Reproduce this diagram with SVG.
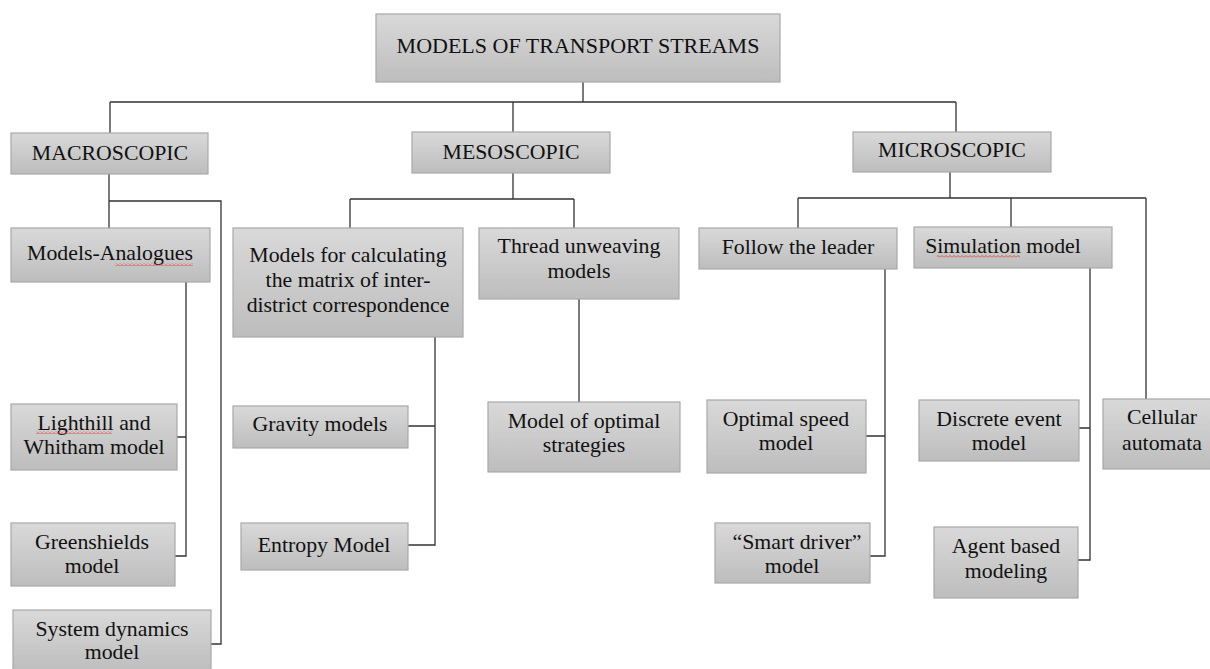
<svg xmlns="http://www.w3.org/2000/svg" width="1210" height="669" viewBox="0 0 1210 669">
<defs>
<linearGradient id="g" x1="0" y1="0" x2="0" y2="1">
<stop offset="0" stop-color="#d9d9d9"/>
<stop offset="1" stop-color="#bdbdbd"/>
</linearGradient>
<pattern id="sq" width="4" height="3" patternUnits="userSpaceOnUse">
<path d="M0,2.5 L2,0.5 L4,2.5" stroke="#e03030" fill="none" stroke-width="0.8"/>
</pattern>
<style>
.b{fill:url(#g);stroke:#a8a8a8;stroke-width:1.2}
.t{font-family:"Liberation Serif","Times New Roman",serif;font-size:21.8px;fill:#111;text-anchor:middle}
.r{font-size:22px}
.c{fill:none;stroke:#333;stroke-width:1.3}
.sq{fill:url(#sq)}
</style>
</defs>
<rect width="1210" height="669" fill="#fff"/>
<g id="connectors" class="c">
<path d="M583,82 V102 M110,102 H956 M110,102 V133 M513,102 V132 M956,102 V132"/>
<path d="M109,174 V228 M109,201 H221 V644 H211 M186,282 V556 H175 M177,437 H186"/>
<path d="M513,173 V199 M350,199 H574 M350,199 V228 M574,199 V228 M435,337 V545 H408 M408,426 H435 M579,299 V402"/>
<path d="M950,172 V198 M798,198 H1146 M798,198 V228 M1011,198 V228 M1146,198 V399 M885,269 V556 H870 M866,436 H885 M1090,268 V560 H1078 M1079,428 H1090"/>
</g>
<g id="root"><rect class="b" x="376" y="14" width="404" height="68"/><text class="t r" x="578" y="53">MODELS OF TRANSPORT STREAMS</text></g>
<g id="macro"><rect class="b" x="11" y="133" width="197" height="41"/><text class="t" x="110" y="160">MACROSCOPIC</text></g>
<g id="analogues"><rect class="b" x="11" y="228" width="199" height="54"/><text class="t" x="110" y="260">Models-Analogues</text><rect class="sq" x="115" y="263" width="78" height="3"/></g>
<g id="lighthill"><rect class="b" x="11" y="404" width="166" height="66"/><text class="t" x="94" y="430">Lighthill and</text><text class="t" x="94" y="454">Whitham model</text><rect class="sq" x="36" y="431" width="76" height="3"/></g>
<g id="greenshields"><rect class="b" x="11" y="523" width="164" height="63"/><text class="t" x="92" y="549">Greenshields</text><text class="t" x="92" y="573">model</text></g>
<g id="sysdyn"><rect class="b" x="13" y="610" width="198" height="62"/><text class="t" x="112" y="636">System dynamics</text><text class="t" x="112" y="659">model</text></g>
<g id="meso"><rect class="b" x="412" y="132" width="198" height="41"/><text class="t" x="511" y="159">MESOSCOPIC</text></g>
<g id="matrix"><rect class="b" x="233" y="228" width="230" height="109"/><text class="t" x="348" y="262">Models for calculating</text><text class="t" x="348" y="287">the matrix of inter-</text><text class="t" x="348" y="312">district correspondence</text></g>
<g id="thread"><rect class="b" x="479" y="228" width="200" height="71"/><text class="t" x="579" y="253">Thread unweaving</text><text class="t" x="579" y="278">models</text></g>
<g id="gravity"><rect class="b" x="233" y="406" width="175" height="42"/><text class="t" x="320" y="431">Gravity models</text></g>
<g id="entropy"><rect class="b" x="241" y="523" width="167" height="47"/><text class="t" x="324" y="552">Entropy Model</text></g>
<g id="optimal"><rect class="b" x="488" y="402" width="192" height="70"/><text class="t" x="584" y="428">Model of optimal</text><text class="t" x="584" y="452">strategies</text></g>
<g id="micro"><rect class="b" x="853" y="132" width="198" height="40"/><text class="t" x="952" y="157">MICROSCOPIC</text></g>
<g id="follow"><rect class="b" x="699" y="228" width="198" height="41"/><text class="t" x="798" y="254">Follow the leader</text></g>
<g id="simulation"><rect class="b" x="914" y="227" width="198" height="41"/><text class="t" x="1003" y="253">Simulation model</text><rect class="sq" x="937" y="255" width="83" height="3"/></g>
<g id="optspeed"><rect class="b" x="707" y="400" width="159" height="73"/><text class="t" x="786" y="426">Optimal speed</text><text class="t" x="786" y="450">model</text></g>
<g id="smart"><rect class="b" x="715" y="523" width="155" height="60"/><text class="t" x="797" y="549">“Smart driver”</text><text class="t" x="792" y="573">model</text></g>
<g id="discrete"><rect class="b" x="919" y="400" width="160" height="61"/><text class="t" x="999" y="426">Discrete event</text><text class="t" x="999" y="450">model</text></g>
<g id="agent"><rect class="b" x="934" y="527" width="144" height="71"/><text class="t" x="1006" y="553">Agent based</text><text class="t" x="1006" y="578">modeling</text></g>
<g id="cellular"><rect class="b" x="1103" y="399" width="115" height="70"/><text class="t" x="1162" y="424">Cellular</text><text class="t" x="1162" y="450">automata</text></g>
</svg>
